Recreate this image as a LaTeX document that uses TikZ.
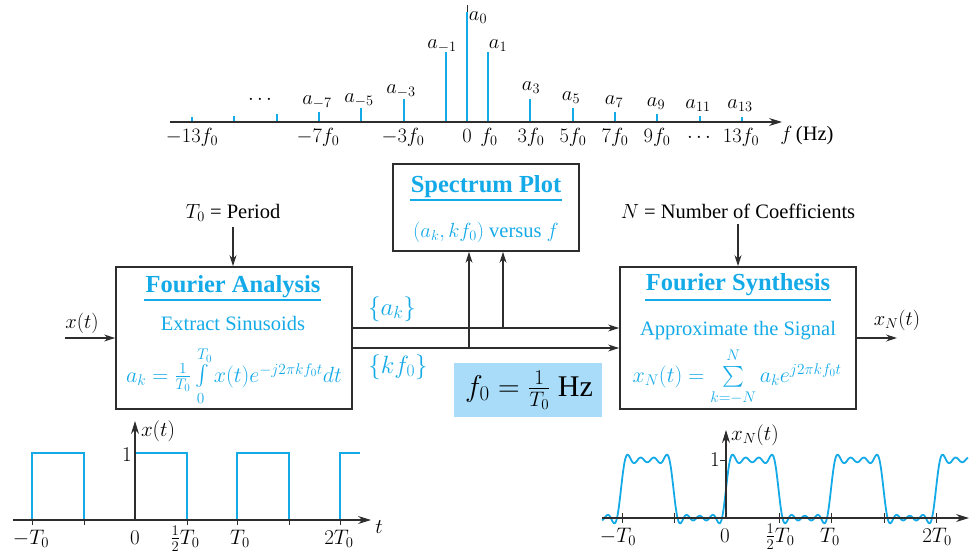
\RequirePackage{fix-cm}
\documentclass[tikz,border=0pt]{standalone}
\usepackage{exscale}
\usepackage{fontspec}
\setmainfont{Liberation Serif}
\usetikzlibrary{arrows.meta}
\definecolor{cy}{RGB}{20,170,232}
\definecolor{lb}{RGB}{168,220,248}
\definecolor{ln}{RGB}{45,45,45}
\newcommand{\uplim}[2]{\raisebox{#1}{$\scriptstyle #2$}}
\tikzset{
  arr/.style={draw=ln, line width=1.1pt, -{Stealth[length=11pt,width=7pt]}},
  ax/.style={draw=ln, line width=1.1pt},
  axarr/.style={draw=ln, line width=1.1pt, -{Stealth[length=13pt,width=8pt]}},
  blk/.style={draw=ln, line width=1.8pt, inner sep=0pt},
  stem/.style={draw=cy, line width=2pt},
  wave/.style={draw=cy, line width=1.8pt, line join=miter},
  tick/.style={draw=ln, line width=0.9pt},
  t19/.style={anchor=base, inner sep=0pt, font=\fontsize{20.5}{24}\selectfont},
  t21/.style={anchor=base, inner sep=0pt, font=\fontsize{21}{25}\selectfont},
  t20/.style={anchor=base, inner sep=0pt, font=\fontsize{20.5}{24}\selectfont},
  ttl/.style={anchor=base, inner sep=0pt, text=cy, font=\fontsize{24.5}{28}\selectfont\bfseries},
  body/.style={anchor=base, inner sep=0pt, text=cy, font=\fontsize{20.5}{24}\selectfont},
  frm/.style={anchor=base, inner sep=0pt, text=cy, font=\fontsize{22}{26}\selectfont},
  big/.style={anchor=base, inner sep=0pt, text=cy, font=\fontsize{25}{30}\selectfont},
  uline/.style={draw=cy, line width=1.2pt}
}
\begin{document}
\begin{tikzpicture}[x=1pt,y=-1pt]
\useasboundingbox (0,0) rectangle (974,554);

% ---------------- spectrum ----------------
\draw[draw=ln, line width=0.8pt] (467,122) -- (467,5);
\foreach \k/\t in {0/12,1/52,-1/52,3/99,-3/99,5/108,-5/108,7/112,-7/112,9/114,-9/114,11/116,-11/116,13/117,-13/117}
  \draw[stem] ({467+21.15*\k},122) -- ({467+21.15*\k},\t);
\coordinate (fs0) at (170,122);
\coordinate (fs1) at (782,122);
\draw[axarr] (fs0) -- (fs1);

\node[t20] (la0)  at (478,20)  {$a_0$};
\node[t20] (lam1) at (442,48)  {$a_{-1}$};
\node[t20] (la1)  at (498,48)  {$a_1$};
\node[t20] (lam3) at (401,93)  {$a_{-3}$};
\node[t20] (la3)  at (531,90)  {$a_3$};
\node[t20] (lam5) at (359,102) {$a_{-5}$};
\node[t20] (lam7) at (317,104) {$a_{-7}$};
\node[t20] (ldl)  at (260,104) {$\cdots$};
\node[t20] (la5)  at (571,100) {$a_5$};
\node[t20] (la7)  at (614,104) {$a_7$};
\node[t20] (la9)  at (656,106) {$a_9$};
\node[t20] (la11) at (698,108) {$a_{11}$};
\node[t20] (la13) at (740,108) {$a_{13}$};

\node[t20] (tm13) at (192,142) {$-13f_0$};
\node[t20] (tm7)  at (318,142) {$-7f_0$};
\node[t20] (tm3)  at (403,142) {$-3f_0$};
\node[t20] (t0)   at (467,142) {$0$};
\node[t20] (t1)   at (489,142) {$f_0$};
\node[t20] (t3)   at (531,142) {$3f_0$};
\node[t20] (t5)   at (573,142) {$5f_0$};
\node[t20] (t7)   at (615,142) {$7f_0$};
\node[t20] (t9)   at (657,142) {$9f_0$};
\node[t20] (tdr)  at (699,142) {$\cdots$};
\node[t20] (t13)  at (741,142) {$13f_0$};
\node[t20] (fhz)  at (807,140) {$f\,$(Hz)};

% ---------------- spectrum plot box ----------------
\node[blk, minimum width=186pt, minimum height=87pt] (sp) at (486,207.5) {};
\node[ttl] (spt) at (486,192) {Spectrum Plot};
\draw[uline] (410,200) -- (562,200);
\node[body] (spb) at (486,237) {$(a_k,kf_0)$ versus $f$};

% ---------------- analysis box ----------------
\node[blk, minimum width=236pt, minimum height=142pt] (fa) at (234,338) {};
\node[ttl] (fat) at (233,292) {Fourier Analysis};
\draw[uline] (144,300) -- (321,300);
\node[body] (fab) at (233,330) {Extract Sinusoids};
\node[frm] (faf) at (234,382) {$a_k=\frac{1}{T_0}\int\limits^{\uplim{1pt}{T_0}}_{\uplim{-3pt}{0}}x(t)e^{-j2\pi kf_0t}dt$};

\node[t19] (per) at (233,218) {$T_0$ = Period};
\draw[arr] ([yshift=-6pt]per.south) -- (per.south |- fa.north);
\coordinate (xin) at (65,338);
\draw[arr] (xin) -- (fa.west);
\node[t19] (xl) at (82,328) {$x(t)$};

% ---------------- synthesis box ----------------
\node[blk, minimum width=236pt, minimum height=142pt] (fy) at (738,338) {};
\node[ttl] (fyt) at (738,290) {Fourier Synthesis};
\draw[uline] (645,300) -- (831,300);
\node[body] (fyb) at (738,335) {Approximate the Signal};
\node[frm] (fyf) at (737,382) {$x_N(t)=\sum\limits^{\uplim{1pt}{N}}_{\uplim{-3pt}{k=-N}}a_ke^{j2\pi kf_0t}$};

\node[t19] (ncoef) at (738,218) {$N$ = Number of Coefficients};
\draw[arr] ([yshift=-6pt]ncoef.south) -- (ncoef.south |- fy.north);
\coordinate (xout) at (897,338);
\draw[arr] (fy.east) -- (xout);
\node[t19] (xnl) at (897,325) {$x_N(t)$};

% ---------------- connecting lines ----------------
\draw[arr] ([yshift=10pt]fa.east) -- ([yshift=10pt]fy.west);
\draw[arr] ([yshift=-10pt]fa.east) -- ([yshift=-10pt]fy.west);
\coordinate (j1) at (469,348);
\coordinate (j2) at (503,328);
\draw[arr] (j1) -- (j1 |- sp.south);
\draw[arr] (j2) -- (j2 |- sp.south);
\node[big] (akl) at (392,315) {$\{a_k\}$};
\node[big] (kfl) at (398,373) {$\{kf_0\}$};

% ---------------- f0 box ----------------
\node[fill=lb, minimum width=148pt, minimum height=54pt, inner sep=0pt] (f0b) at (528,390) {};
\node[anchor=base, inner sep=0pt, font=\fontsize{30}{34}\selectfont] (f0t) at (529,396) {$f_0=\frac{1}{T_0}$ Hz};

% ---------------- bottom-left plot ----------------
\draw[wave] (13,520) -- (32,520) -- (32,453) -- (84,453) -- (84,520) -- (135,520) -- (135,453) -- (187,453) -- (187,520) -- (237,520) -- (237,453) -- (289,453) -- (289,520) -- (340,520) -- (340,453) -- (360,453);
\coordinate (bl0) at (13,520);
\coordinate (bl1) at (371,520);
\coordinate (blo) at (135,520);
\coordinate (bly) at (135,421);
\draw[axarr] (bl0) -- (bl1);
\draw[axarr] (blo) -- (bly);
\foreach \p in {32,84,187,237,289,340} \draw[tick] (\p,520) -- (\p,525);
\node[t21] (blt)  at (379,533) {$t$};
\node[t21] (blx)  at (158,436) {$x(t)$};
\node[t21] (bl1l) at (127,461) {$1$};
\node[t21] (blm)  at (31,544)  {$-T_0$};
\node[t21] (blz)  at (135,544) {$0$};
\node[t21] (blh)  at (185,544) {$\frac{1}{2}T_0$};
\node[t21] (blT)  at (240,544) {$T_0$};
\node[t21] (bl2)  at (339,544) {$2T_0$};

% ---------------- bottom-right plot ----------------
\draw[wave, line join=round] plot[domain=602:968, samples=500, smooth]
  (\x, {518 - 58*(0.5 + 0.63662*(sin(3.428571*(\x-726)) + sin(10.285714*(\x-726))/3 + sin(17.142857*(\x-726))/5 + sin(24*(\x-726))/7))});
\coordinate (br0) at (602,518);
\coordinate (br1) at (969,518);
\coordinate (bro) at (726,518);
\coordinate (bry) at (726,430);
\draw[axarr] (br0) -- (br1);
\draw[axarr] (bro) -- (bry);
\foreach \p in {622,674,779,831,884,936} \draw[tick] (\p,513) -- (\p,523);
\draw[tick] (720,460) -- (726,460);
\node[t21] (brt)  at (980,528) {$t$};
\node[t21] (brx)  at (755,440) {$x_N(t)$};
\node[t21] (br1l) at (715,466) {$1$};
\node[t21] (brm)  at (618,542) {$-T_0$};
\node[t21] (brz)  at (725,542) {$0$};
\node[t21] (brh)  at (780,542) {$\frac{1}{2}T_0$};
\node[t21] (brT)  at (830,542) {$T_0$};
\node[t21] (br2)  at (937,542) {$2T_0$};
\end{tikzpicture}
\end{document}
